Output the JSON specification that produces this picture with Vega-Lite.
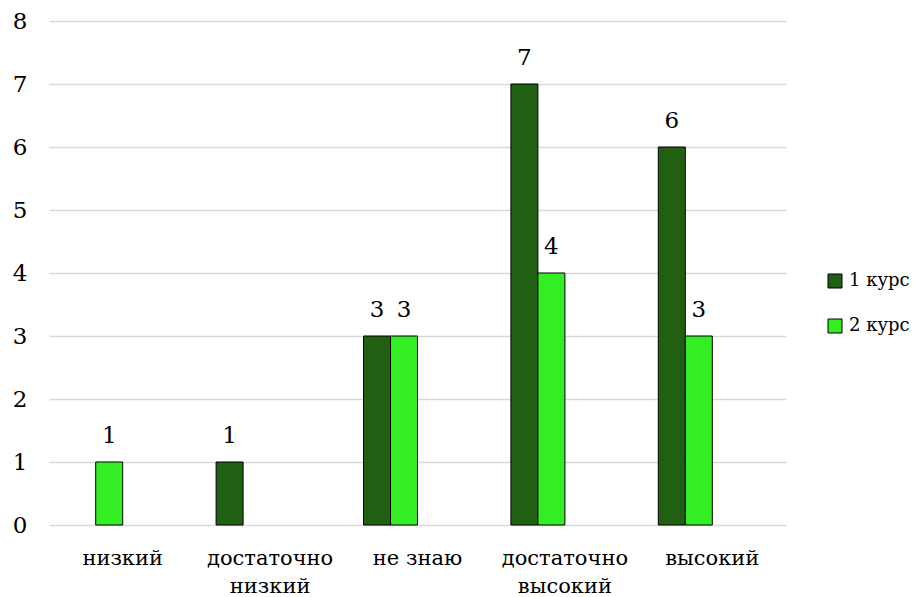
{
  "$schema": "https://vega.github.io/schema/vega-lite/v6.json",
  "width": 737,
  "height": 504,
  "autosize": {"type": "none"},
  "padding": {"left": 49, "top": 21, "right": 134, "bottom": 72},
  "background": "white",
  "config": {
    "font": "DejaVu Serif",
    "view": {"stroke": null},
    "axis": {"labelFont": "DejaVu Serif", "labelColor": "#000000"},
    "legend": {"labelFont": "DejaVu Serif"},
    "text": {"font": "DejaVu Serif"}
  },
  "data": {
    "values": [
      {"category": "низкий", "series": "2 курс", "value": 1},
      {"category": "достаточно низкий", "series": "1 курс", "value": 1},
      {"category": "не знаю", "series": "1 курс", "value": 3},
      {"category": "не знаю", "series": "2 курс", "value": 3},
      {"category": "достаточно высокий", "series": "1 курс", "value": 7},
      {"category": "достаточно высокий", "series": "2 курс", "value": 4},
      {"category": "высокий", "series": "1 курс", "value": 6},
      {"category": "высокий", "series": "2 курс", "value": 3}
    ]
  },
  "encoding": {
    "x": {
      "field": "category",
      "type": "nominal",
      "sort": ["низкий", "достаточно низкий", "не знаю", "достаточно высокий", "высокий"],
      "scale": {"paddingInner": 0, "paddingOuter": 0},
      "axis": {
        "title": null,
        "labelAngle": 0,
        "labelFont": "DejaVu Serif",
        "labelFontSize": 21,
        "labelPadding": 22,
        "labelLineHeight": 28,
        "ticks": false,
        "domain": false,
        "grid": false,
        "labelExpr": "indexof(datum.value, 'достаточно') == 0 ? split(datum.value, ' ') : datum.value"
      }
    },
    "xOffset": {
      "field": "series",
      "type": "nominal",
      "scale": {"domain": ["1 курс", "2 курс", "s3", "s4"], "paddingInner": 0, "paddingOuter": 0.73}
    },
    "y": {
      "field": "value",
      "type": "quantitative",
      "scale": {"domain": [0, 8]},
      "axis": {
        "title": null,
        "values": [0, 1, 2, 3, 4, 5, 6, 7, 8],
        "labelFont": "DejaVu Serif",
        "labelFontSize": 23,
        "labelPadding": 22,
        "ticks": false,
        "domain": false,
        "gridColor": "#d9d9d9",
        "gridWidth": 1.5
      }
    }
  },
  "layer": [
    {
      "mark": {"type": "bar", "stroke": "#000000", "strokeWidth": 1},
      "encoding": {
        "color": {
          "field": "series",
          "type": "nominal",
          "scale": {"domain": ["1 курс", "2 курс"], "range": ["#215f12", "#33ee22"]},
          "legend": {
            "title": null,
            "orient": "none",
            "legendX": 777,
            "legendY": 251,
            "symbolType": "square",
            "symbolSize": 196,
            "symbolStrokeColor": "#000000",
            "symbolStrokeWidth": 1,
            "symbolOpacity": 1,
            "labelFont": "DejaVu Serif",
            "labelFontSize": 18,
            "labelColor": "#000000",
            "labelOffset": 5,
            "rowPadding": 27
          }
        }
      }
    },
    {
      "mark": {"type": "text", "font": "DejaVu Serif", "fontSize": 23, "baseline": "alphabetic", "dy": -19, "color": "#000000"},
      "encoding": {
        "text": {"field": "value", "type": "quantitative"}
      }
    }
  ]
}
